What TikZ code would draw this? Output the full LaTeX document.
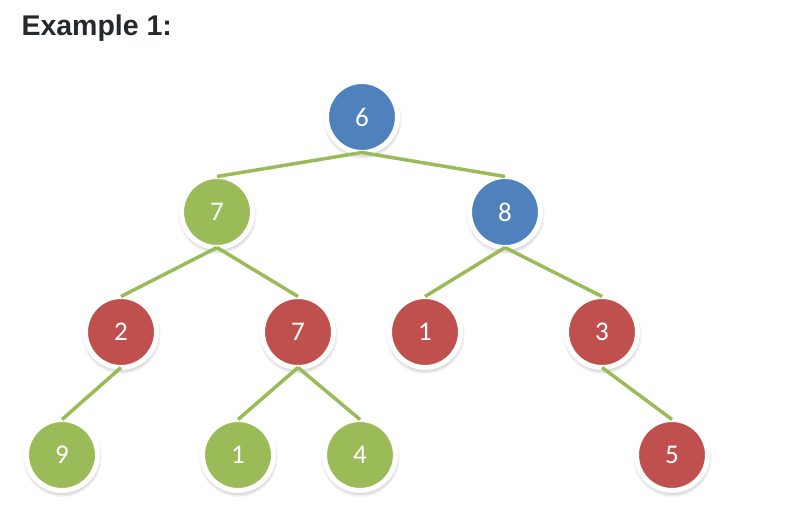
\documentclass[tikz,border=0pt]{standalone}
\usepackage{fontspec}
\setmainfont{Carlito}
\newfontfamily\titlefont{Liberation Sans}
\usetikzlibrary{shadows}
\definecolor{keyblue}{HTML}{4F81BD}
\definecolor{keygreen}{HTML}{9BBB59}
\definecolor{keyred}{HTML}{C0504D}
\definecolor{titlegray}{HTML}{24292E}

\begin{document}
\begin{tikzpicture}[x=1pt,y=-1pt,
  key/.style={circle,minimum size=71pt,inner sep=0pt,outer sep=0pt,
    draw=white,line width=5pt,text=white,font=\fontsize{27}{32}\selectfont,
    circular drop shadow={shadow scale=1.12,shadow xshift=0pt,shadow yshift=-2pt,opacity=0.45}},
  link/.style={draw=keygreen,line width=3.5pt}]
  \useasboundingbox (0,0) rectangle (794,524);

  % title
  \node[anchor=base west,text=titlegray,font=\titlefont\bfseries\fontsize{28.5}{34}\selectfont]
    (title) at (18,36) {Example 1:};

  % level 0 and 1
  \node[key,fill=keyblue] (r6) at (362,117) {6};
  \node[key,fill=keygreen] (a7) at (217,212) {7};
  \node[key,fill=keyblue] (b8) at (505,212) {8};

  % level 2
  \node[key,fill=keyred] (a2) at (121,332) {2};
  \node[key,fill=keyred] (b7) at (298,332) {7};
  \node[key,fill=keyred] (c1) at (425,332) {1};
  \node[key,fill=keyred] (d3) at (602,332) {3};

  % level 3
  \node[key,fill=keygreen] (e9) at (62,455) {9};
  \node[key,fill=keygreen] (f1) at (238,455) {1};
  \node[key,fill=keygreen] (g4) at (360,455) {4};
  \node[key,fill=keyred] (h5) at (672,455) {5};

  % links
  \draw[link] (r6.south) -- (a7.north);
  \draw[link] (r6.south) -- (b8.north);
  \draw[link] (a7.south) -- (a2.north);
  \draw[link] (a7.south) -- (b7.north);
  \draw[link] (b8.south) -- (c1.north);
  \draw[link] (b8.south) -- (d3.north);
  \draw[link] (a2.south) -- (e9.north);
  \draw[link] (b7.south) -- (f1.north);
  \draw[link] (b7.south) -- (g4.north);
  \draw[link] (d3.south) -- (h5.north);
\end{tikzpicture}
\end{document}
